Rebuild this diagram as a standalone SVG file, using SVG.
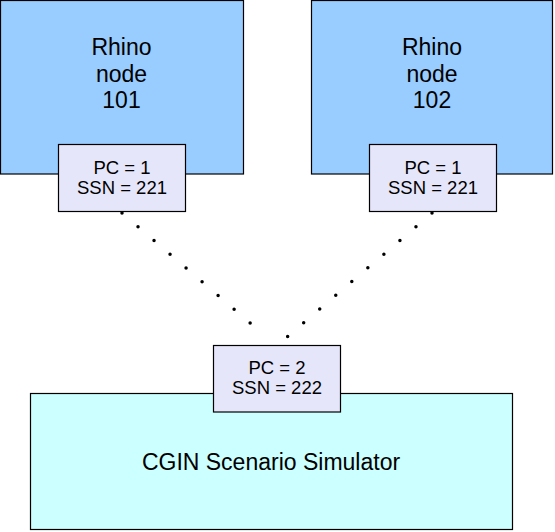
<svg xmlns="http://www.w3.org/2000/svg" width="555" height="532" viewBox="0 0 555 532">
<style>
.big{fill:#99ccff;stroke:#000;stroke-width:1.2}
.port{fill:#e6e6fa;stroke:#000;stroke-width:1.2}
.sim{fill:#ccffff;stroke:#000;stroke-width:1.2}
text{font-family:"Liberation Sans",Arial,sans-serif;fill:#000;text-anchor:middle}
.t1{font-size:23px}
.t2{font-size:18.5px}
.dot{stroke:#000;stroke-width:3.5;stroke-linecap:round;stroke-dasharray:0 21.1;fill:none}
</style>
<rect width="555" height="532" fill="#fff"/>
<g id="rhino101">
<rect class="big" x="0.5" y="0.5" width="243" height="173.5"/>
<text class="t1" x="121.5" y="55">Rhino</text>
<text class="t1" x="121.5" y="82">node</text>
<text class="t1" x="121.5" y="108">101</text>
</g>
<g id="rhino102">
<rect class="big" x="311.5" y="0.5" width="241" height="173.5"/>
<text class="t1" x="432" y="55">Rhino</text>
<text class="t1" x="432" y="82">node</text>
<text class="t1" x="432" y="108">102</text>
</g>
<g id="port101">
<rect class="port" x="58.5" y="144.5" width="127" height="67"/>
<text class="t2" x="122" y="174">PC = 1</text>
<text class="t2" x="122" y="194">SSN = 221</text>
</g>
<g id="port102">
<rect class="port" x="369.5" y="144.5" width="127" height="67"/>
<text class="t2" x="433" y="174">PC = 1</text>
<text class="t2" x="433" y="194">SSN = 221</text>
</g>
<g id="simulator">
<rect class="sim" x="30.5" y="393.5" width="482" height="136"/>
<text class="t1" x="271" y="470">CGIN Scenario Simulator</text>
</g>
<g id="port-sim">
<rect class="port" x="213.5" y="345.5" width="127" height="66.5"/>
<text class="t2" x="277" y="374">PC = 2</text>
<text class="t2" x="277" y="394">SSN = 222</text>
</g>
<g id="connectors">
<line class="dot" x1="122" y1="213" x2="266" y2="336.5"/>
<line class="dot" x1="432" y1="213" x2="287.5" y2="336.5"/>
</g>
</svg>
